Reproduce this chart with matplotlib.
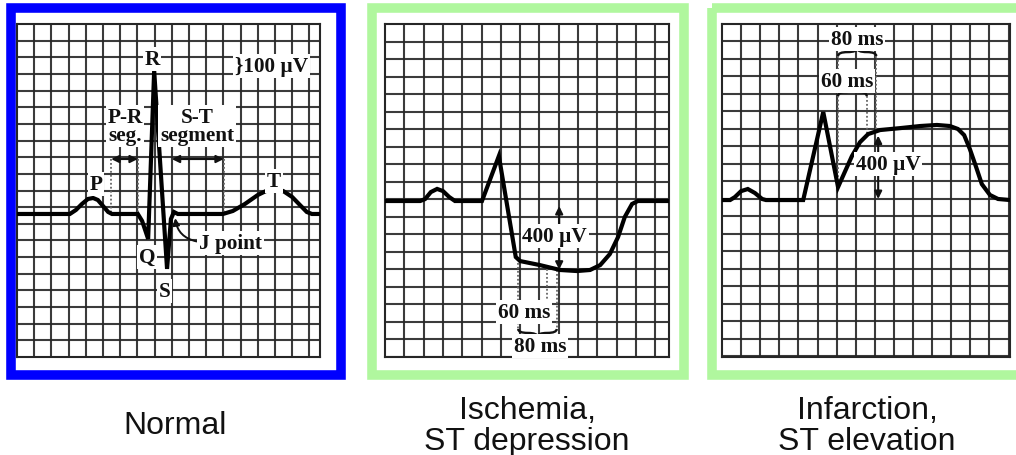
import matplotlib
matplotlib.use('Agg')
import matplotlib.pyplot as plt
import numpy as np
from matplotlib.patches import Rectangle, PathPatch
from matplotlib.path import Path

# ---------------- data (time in ms, voltage in microvolts) ----------------
normal_t = [0, 123, 137, 151, 165, 177, 188, 200, 212, 221, 281, 291, 305, 319,
            349, 358, 365, 374, 479, 502, 530, 560, 584, 600, 619, 640, 658, 674, 686, 705]
normal_v = [0, 0, 24, 60, 90, 96, 84, 48, 12, 0, 0, -42, -150, 860,
            -330, -30, 12, 0, 0, 18, 60, 114, 144, 150, 138, 102, 54, 12, 0, 0]

isch_t = [0, 73, 83, 95, 108, 120, 133, 145, 201, 236, 271, 280, 321, 363, 398,
          425, 446, 466, 483, 497, 512, 524, 589]
isch_v = [0, 0, 11, 51, 69, 57, 23, 0, 0, 257, -320, -343, -366, -394, -400,
          -394, -366, -303, -206, -91, -17, 0, 0]

inf_t = [0, 17, 27, 40, 54, 69, 84, 92, 170, 212, 243, 258, 272, 289, 306, 331,
         373, 415, 450, 477, 494, 507, 519, 532, 544, 561, 578, 603]
inf_v = [0, 0, 17, 51, 63, 40, 6, 0, 0, 503, 74, 166, 251, 331, 377, 400,
         411, 423, 429, 423, 406, 371, 291, 189, 91, 29, 6, 0]

titles = [["Normal"], ["Ischemia,", "ST depression"], ["Infarction,", "ST elevation"]]

st_windows = [60, 80]          # ms after J point
st_shift_label = "400 µV"
scale_label = "}100 µV"

# ---------------- figure ----------------
W, H = 1016, 456
fig = plt.figure(figsize=(W / 100, H / 100), dpi=100)

bg = fig.add_axes([0, 0, 1, 1])
bg.set_xlim(0, W)
bg.set_ylim(H, 0)
bg.axis('off')

BLUE = '#0000ff'
GREEN = '#b0f79e'
bw = 6.9
bg.add_patch(Rectangle((10.5, 9), 330.5, 367, fill=False, ec=BLUE, lw=bw, joinstyle='miter'))
bg.add_patch(Rectangle((372, 9), 311.5, 367, fill=False, ec=GREEN, lw=bw, joinstyle='miter'))
bg.add_patch(Rectangle((712, 9), 330, 367, fill=False, ec=GREEN, lw=bw, joinstyle='miter'))

SANS = ['Liberation Sans', 'DejaVu Sans']
title_pos = [(175, [434]), (527, [419, 450]), (867, [419, 450])]
for lines, (cx, ys) in zip(titles, title_pos):
    for s, yb in zip(lines, ys):
        bg.text(cx, yb, s, ha='center', va='baseline', fontsize=23, family=SANS, color='#111111')

SERIF = ['Liberation Serif', 'DejaVu Serif']
FS = 15.3
GRID_C = '#262626'


def panel(box, xmax, ybot, ytop):
    x0, y0, x1, y1 = box
    ax = fig.add_axes([x0 / W, 1 - y1 / H, (x1 - x0) / W, (y1 - y0) / H])
    ax.set_xlim(0, xmax)
    ax.set_ylim(ybot, ytop)
    ax.set_facecolor('white')
    ax.set_xticks([])
    ax.set_yticks([])
    for s in ax.spines.values():
        s.set_color(GRID_C)
        s.set_linewidth(1.5)
    for xv in np.arange(40, xmax, 40):
        ax.axvline(xv, color=GRID_C, lw=1.5, alpha=0.9, zorder=1)
    for yv in np.arange(ytop - 100, ybot, -100):
        ax.axhline(yv, color=GRID_C, lw=1.5, alpha=0.9, zorder=1)
    return ax


def lab(ax, x, y, s, ha='center', **kw):
    ax.text(x, y, s, ha=ha, va='center', fontsize=FS, family=SERIF, weight='bold',
            color='#111111', zorder=6, linespacing=0.92,
            bbox=dict(fc='white', ec='none', pad=1.2), **kw)


def darrow(ax, p0, p1):
    ax.annotate('', xy=p1, xytext=p0, zorder=5,
                arrowprops=dict(arrowstyle='<|-|>', color='#111111', lw=1.5,
                                mutation_scale=11, shrinkA=0, shrinkB=0))


def dotted(ax, x, y0, y1):
    ax.plot([x, x], [y0, y1], color='#666666', lw=1.3, ls=(0, (1, 1.2)), zorder=3)


def brace(ax, x0, x1, y, h):
    xm = (x0 + x1) / 2
    d = (x1 - x0) * 0.25
    verts = [(x0, y), (x0, y + h / 2), (x0 + d, y + h / 2),
             (xm - d, y + h / 2), (xm, y + h / 2), (xm, y + h),
             (xm, y + h / 2), (xm + d, y + h / 2),
             (x1 - d, y + h / 2), (x1, y + h / 2), (x1, y)]
    codes = [Path.MOVETO, Path.CURVE3, Path.CURVE3, Path.LINETO, Path.CURVE3, Path.CURVE3,
             Path.CURVE3, Path.CURVE3, Path.LINETO, Path.CURVE3, Path.CURVE3]
    ax.add_patch(PathPatch(Path(verts, codes), fc='none', ec='#111111', lw=1.7, zorder=5))


def trace(ax, t, v):
    ax.plot(t, v, color='black', lw=3.0, solid_joinstyle='miter', solid_capstyle='butt', zorder=4)


# ---------------- panel 1: normal ----------------
ax1 = panel((17, 25, 320, 358), 704.7, -859, 1141)
trace(ax1, normal_t, normal_v)
lab(ax1, 314, 931, 'R')
lab(ax1, 507, 889, scale_label, ha='left')
lab(ax1, 251, 528, 'P-R\nseg.')
lab(ax1, 419, 528, 'S-T\nsegment')
darrow(ax1, (219, 330), (281, 330))
darrow(ax1, (360, 330), (481, 330))
dotted(ax1, 219, 330, 0)
dotted(ax1, 281, 330, 0)
dotted(ax1, 481, 330, 0)
lab(ax1, 184, 180, 'P')
lab(ax1, 598, 198, 'T')
lab(ax1, 302, -258, 'Q')
lab(ax1, 344, -462, 'S')
lab(ax1, 423, -174, 'J point', ha='left')
ax1.annotate('', xy=(368, -25), xytext=(418, -165), zorder=5,
             arrowprops=dict(arrowstyle='-|>', color='#111111', lw=1.4, mutation_scale=10,
                             shrinkA=0, shrinkB=0, connectionstyle='arc3,rad=-0.35'))

# ---------------- panel 2: ischemia ----------------
ax2 = panel((385, 25, 669, 358), 588.6, -891, 1011)
trace(ax2, isch_t, isch_v)
j2 = isch_t[10]
darrow(ax2, (361, -29), (361, -392))
lab(ax2, 352, -200, st_shift_label)
dotted(ax2, j2 + 5, -330, -731)
dotted(ax2, j2 + 5 + st_windows[0], -390, -571)
dotted(ax2, j2 + 5 + st_windows[1], -396, -731)
brace(ax2, j2 + 5, j2 + 5 + st_windows[0], -571, -45)
brace(ax2, j2 + 5, j2 + 5 + st_windows[1], -731, -45)
lab(ax2, 288, -634, '60 ms')
lab(ax2, 321, -829, '80 ms')

# ---------------- panel 3: infarction ----------------
ax3 = panel((722, 25, 1010, 358), 603.0, -897, 1006)
trace(ax3, inf_t, inf_v)
j3 = inf_t[10]
dotted(ax3, j3, 823, 74)
dotted(ax3, j3 + st_windows[0], 594, 382)
dotted(ax3, j3 + st_windows[1], 823, 402)
brace(ax3, j3, j3 + st_windows[1], 823, 45)
brace(ax3, j3, j3 + st_windows[0], 594, 45)
lab(ax3, 283, 920, '80 ms')
lab(ax3, 262, 680, '60 ms')
darrow(ax3, (327, 368), (327, 6))
lab(ax3, 348, 206, st_shift_label)

fig.savefig('out.png', dpi=100)
